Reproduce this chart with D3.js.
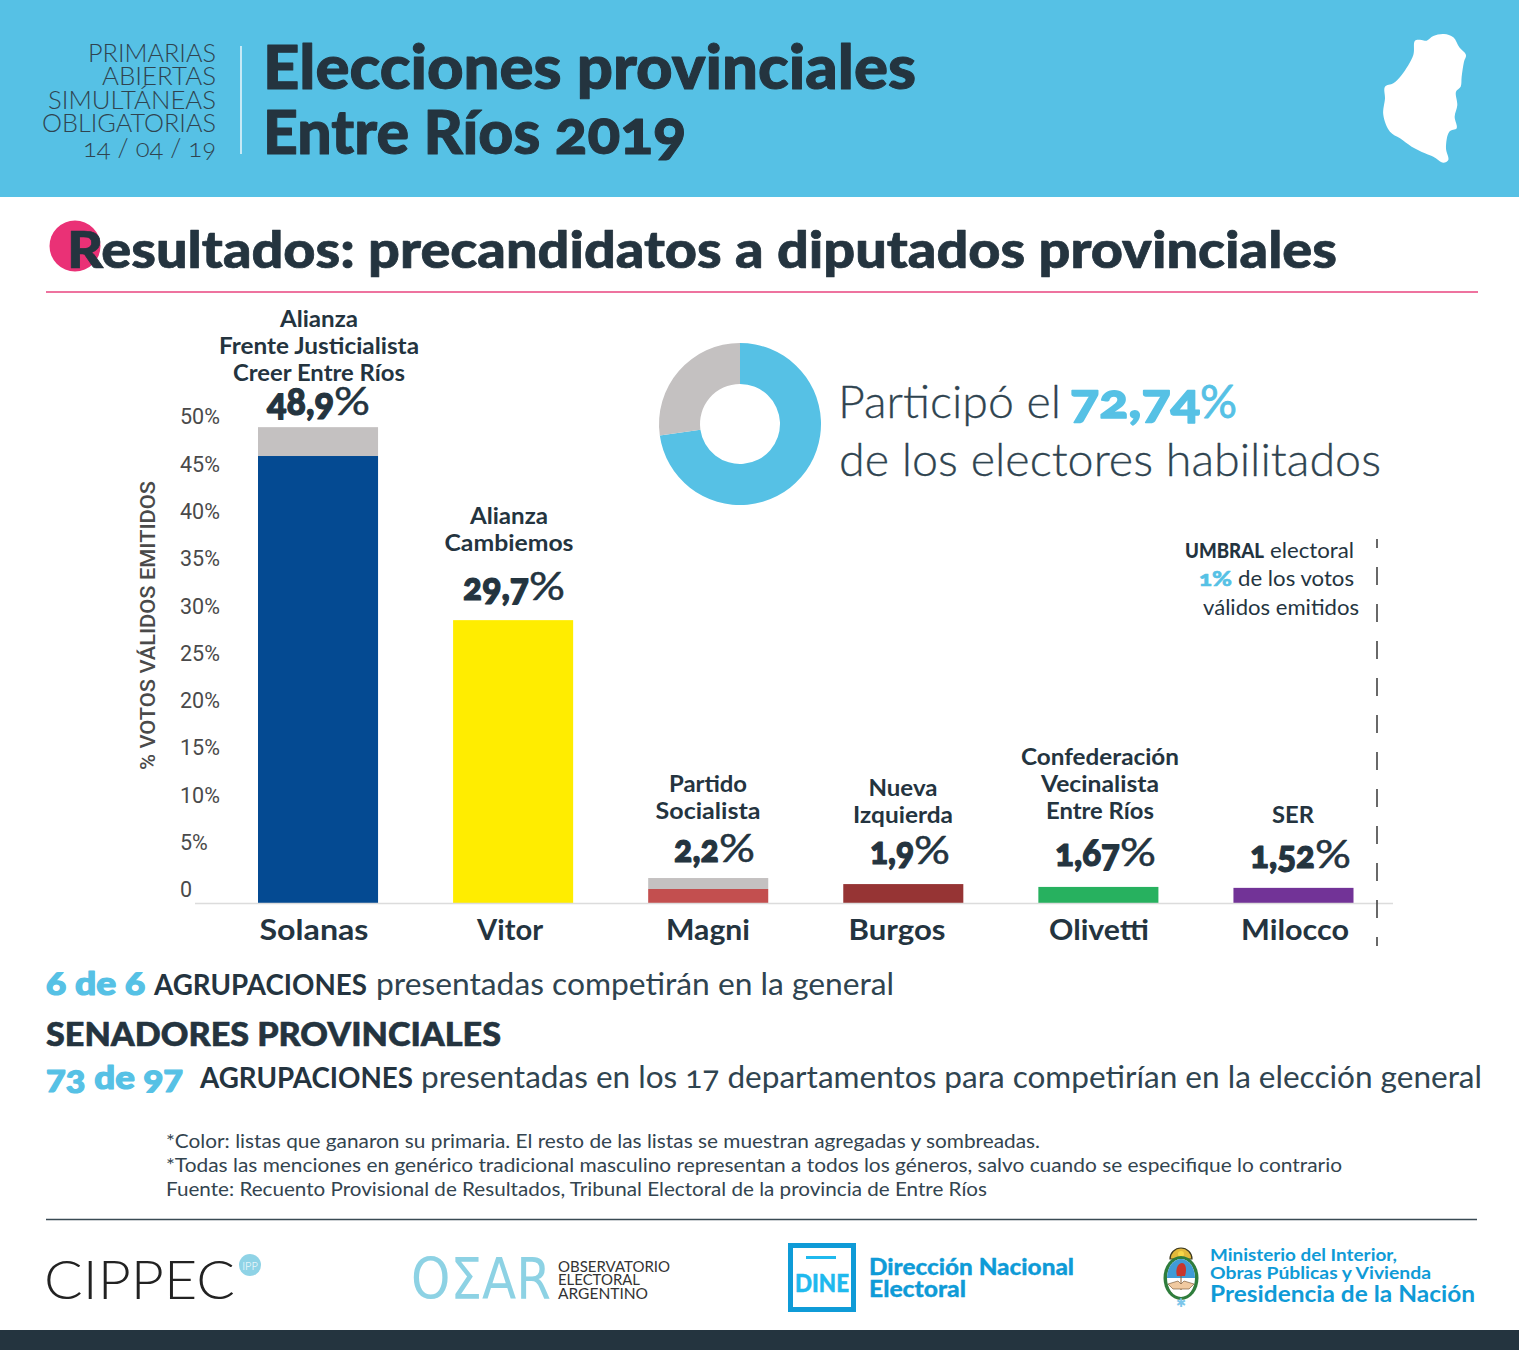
<!DOCTYPE html>
<html lang="es"><head><meta charset="utf-8">
<script src="https://cdnjs.cloudflare.com/ajax/libs/d3/7.8.5/d3.min.js"></script>
<style>html,body{margin:0;padding:0;background:#fff}svg{display:block}text{font-family:Lato,"Noto Sans",sans-serif;font-feature-settings:"onum" 1,"kern" 1}</style>
</head><body><svg id="c" width="1519" height="1350"></svg>
<script>
const candidates=["Solanas","Vitor","Magni","Burgos","Olivetti","Milocco"];
const winnerShare=[47.25,29.9,1.48,2.0,1.7,1.6];
const otherShare=[3.05,0,1.16,0,0,0];
const barColors=["#044a92","#ffed00","#c34f4f","#963434","#27b15f","#723397"];
const voteLabels=["48,9","29,7","2,2","1,9","1,67","1,52"];
const yTicks=[0,5,10,15,20,25,30,35,40,45,50];
const participation=[72.74,27.26];
const INK="#24343f",BLUE="#56c1e5",GREY="#c4c1c1",LOGO="#0f9bd7";
const svg=d3.select("#c");
function t(x,y,s,o={}){const e=svg.append("text").attr("x",x).attr("y",y).text(s)
 .attr("fill",o.fill||INK).attr("font-size",o.size||20).attr("font-weight",o.weight||400)
 .attr("text-anchor",o.anchor||"start");
 if(o.family)e.style("font-family",o.family);
 if(o.width)e.attr("textLength",o.width).attr("lengthAdjust","spacingAndGlyphs");
 if(o.stroke)e.attr("stroke",o.fill||INK).attr("stroke-width",o.stroke).attr("stroke-linejoin","round");
 return e;}
const span=(x0,x1,y,s,o)=>t(x0,y,s,{...o,width:x1-x0});
// header
svg.append("rect").attr("width",1519).attr("height",197).attr("fill",BLUE);
[[88,62,"PRIMARIAS"],[102,85,"ABIERTAS"],[48,109,"SIMULTÁNEAS"],[42,132,"OBLIGATORIAS"],[83,157,"14 / 04 / 19"]]
 .forEach(d=>span(d[0],216,d[1],d[2],{size:25,weight:300,fill:"#2f4450"}));
svg.append("line").attr("x1",241).attr("x2",241).attr("y1",46).attr("y2",154).attr("stroke","#e4f4fa").attr("stroke-width",1.6);
span(263,916,89,"Elecciones provinciales",{size:60,weight:900,stroke:1});
span(263,686,154,"Entre Ríos 2019",{size:60,weight:900,stroke:1});
const mapPts=[[225,62],[245,60],[260,62],[280,48],[312,42],[340,52],[358,82],[378,105],[372,125],[365,170],[362,200],[348,215],[352,255],[344,290],[350,325],[328,335],[318,385],[325,420],[310,428],[280,410],[255,400],[215,380],[180,355],[150,335],[130,285],[135,235],[135,200],[160,190],[185,165],[220,105]];
svg.append("path").attr("transform","translate(1340,20) scale(.3333)").attr("fill","#fff")
 .attr("d",d3.line().curve(d3.curveCatmullRomClosed)(mapPts));
// section title
svg.append("circle").attr("cx",75).attr("cy",246).attr("r",25.5).attr("fill","#ea3176");
span(67,1337,268,"Resultados: precandidatos a diputados provinciales",{size:51,weight:900,stroke:.7});
svg.append("line").attr("x1",46).attr("x2",1478).attr("y1",292).attr("y2",292).attr("stroke","#e8447f").attr("stroke-width",1.6);
// chart
const x=d3.scaleBand().domain(candidates).range([258,1353.5]).paddingInner(75/195);
const y=d3.scaleLinear().domain([0,50]).range([903,430]);
const g=svg.append("g");
g.selectAll(".o").data(candidates).join("rect").attr("x",d=>x(d)).attr("width",x.bandwidth())
 .attr("y",(d,i)=>y(winnerShare[i]+otherShare[i])).attr("height",(d,i)=>y(0)-y(otherShare[i])).attr("fill",GREY);
g.selectAll(".w").data(candidates).join("rect").attr("x",d=>x(d)).attr("width",x.bandwidth())
 .attr("y",(d,i)=>y(winnerShare[i])).attr("height",(d,i)=>y(0)-y(winnerShare[i])).attr("fill",(d,i)=>barColors[i]);
svg.append("line").attr("x1",195).attr("x2",1393).attr("y1",903.5).attr("y2",903.5).attr("stroke","#dcdcdc").attr("stroke-width",1.5);
const axis=d3.axisLeft(y).tickValues(yTicks).tickSize(0).tickPadding(0).tickFormat(d=>d?d+"%":"0");
const ag=svg.append("g").attr("transform","translate(180,-13)").call(axis);
ag.select(".domain").remove();
ag.selectAll("text").attr("fill","#4a4a4a").attr("font-size",21.5).attr("font-weight",400)
 .style("font-family","Roboto").style("font-feature-settings","normal").attr("text-anchor","start").attr("x",0);
svg.append("text").attr("transform","translate(155,625.5) rotate(-90)").attr("text-anchor","middle")
 .attr("fill","#4a4a4a").attr("font-size",21).attr("font-weight",500).style("font-family","Roboto").style("font-feature-settings","normal")
 .attr("textLength",289).attr("lengthAdjust","spacingAndGlyphs").text("% VOTOS VÁLIDOS EMITIDOS");
// labels
const partyLabels=[[["Alianza",319,327],["Frente Justicialista",319,354],["Creer Entre Ríos",319,381]],
 [["Alianza",509,524],["Cambiemos",509,551]],[["Partido",708,792],["Socialista",708,819]],
 [["Nueva",903,796],["Izquierda",903,823]],[["Confederación",1100,765],["Vecinalista",1100,792],["Entre Ríos",1100,819]],[["SER",1293,823]]];
const partyW={"Alianza":78,"Frente Justicialista":200,"Creer Entre Ríos":172,"Cambiemos":129,"Partido":78,"Socialista":105,"Nueva":69,"Izquierda":100,"Confederación":158,"Vecinalista":118,"Entre Ríos":108,"SER":42};
partyLabels.flat().forEach(d=>t(d[1]-partyW[d[0]]/2,d[2],d[0],{size:22.5,weight:700,width:partyW[d[0]]}));
const pctPos=[[267,370,415],[463,565,600],[674,755,862],[870,950,864],[1055,1156,866],[1250,1351,868]];
voteLabels.forEach((v,i)=>{const p=pctPos[i],pw=36;
 span(p[0],p[1]-pw,p[2],v,{size:38,weight:900,stroke:1.2});
 span(p[1]-pw,p[1],p[2],"%",{size:38,weight:400,stroke:.5});});
const nameX=[314,510,708,897,1099,1295],nameW=[109,66,84,97,100,108];
candidates.forEach((c,i)=>t(nameX[i]-nameW[i]/2,940,c,{size:29,weight:700,width:nameW[i]}));
// donut
const arc=d3.arc().innerRadius(40).outerRadius(81);
const dg=svg.append("g").attr("transform","translate(740,424)");
dg.selectAll("path").data(d3.pie().sort(null)(participation)).join("path").attr("d",arc).attr("fill",(d,i)=>i?GREY:BLUE);
span(838,1061,418,"Participó el",{size:46,weight:300,fill:"#2f4450",stroke:.3});
span(1070,1200,418,"72,74",{size:47,weight:900,fill:BLUE,stroke:1.4});
span(1200,1237,418,"%",{size:47,weight:400,fill:BLUE,stroke:.8});
span(839,1381,476,"de los electores habilitados",{size:46,weight:300,fill:"#2f4450",stroke:.3});
// threshold
span(1185,1264,558,"UMBRAL",{size:21,weight:900});
span(1270,1354,558,"electoral",{size:21,weight:400});
span(1199,1232,586,"1%",{size:21,weight:900,fill:BLUE,stroke:.6});
span(1238,1354,586,"de los votos",{size:21,weight:400});
span(1203,1359,615,"válidos emitidos",{size:21,weight:400});
svg.append("line").attr("x1",1377).attr("x2",1377).attr("y1",539).attr("y2",946).attr("stroke","#444").attr("stroke-width",1.6)
 .attr("stroke-dasharray","18 19").attr("stroke-dashoffset",9);
// lower text
span(46,145,995,"6 de 6",{size:32,weight:900,fill:BLUE,stroke:1.2});
span(154,367,995,"AGRUPACIONES",{size:28,weight:700});
span(376,894,995,"presentadas competirán en la general",{size:30,weight:400,fill:"#2f4450"});
span(46,501,1046,"SENADORES PROVINCIALES",{size:32,weight:900,stroke:.6});
span(46,183,1089,"73 de 97",{size:32,weight:900,fill:BLUE,stroke:1.2});
span(200,413,1088,"AGRUPACIONES",{size:28,weight:700});
span(421,1482,1088,"presentadas en los 17 departamentos para competirían en la elección general",{size:30,weight:400,fill:"#2f4450"});
[["*Color: listas que ganaron su primaria. El resto de las listas se muestran agregadas y sombreadas.",1040,1148],
 ["*Todas las menciones en genérico tradicional masculino representan a todos los géneros, salvo cuando se especifique lo contrario",1342,1172],
 ["Fuente: Recuento Provisional de Resultados, Tribunal Electoral de la provincia de Entre Ríos",987,1196]]
 .forEach(d=>span(166,d[1],d[2],d[0],{size:19.5,weight:400,fill:"#33444f"}));
svg.append("line").attr("x1",46).attr("x2",1477).attr("y1",1219.5).attr("y2",1219.5).attr("stroke","#3a4a54").attr("stroke-width",1.5);
// logos
span(44,235,1299,"CIPPEC",{size:53,weight:300,fill:"#222"});
svg.append("circle").attr("cx",250).attr("cy",1265).attr("r",11).attr("fill","#8fd3e6");
t(250,1270,"IPP",{size:11,weight:300,fill:"#fff",anchor:"middle"});
span(411,551,1299,"OΣAR",{size:57,weight:400,fill:"#8dd2e4",family:"'DejaVu Sans'"});
span(558,670,1272,"OBSERVATORIO",{size:15.5,weight:400,fill:"#333"});
span(558,640,1285,"ELECTORAL",{size:15.5,weight:400,fill:"#333"});
span(558,648,1299,"ARGENTINO",{size:15.5,weight:400,fill:"#333"});
svg.append("rect").attr("x",790.5).attr("y",1245.5).attr("width",63).attr("height",64).attr("fill","none").attr("stroke",LOGO).attr("stroke-width",5);
svg.append("rect").attr("x",806).attr("y",1256).attr("width",30).attr("height",3).attr("fill","#1fb9ee");
span(795,849,1292,"DINE",{size:25,weight:900,fill:"#1fb9ee",stroke:.5});
span(869,1074,1275,"Dirección Nacional",{size:23,weight:900,fill:LOGO,stroke:.3});
span(869,966,1297,"Electoral",{size:23,weight:900,fill:LOGO,stroke:.3});
span(1210,1397,1261,"Ministerio del Interior,",{size:17.5,weight:700,fill:LOGO});
span(1210,1431,1279,"Obras Públicas y Vivienda",{size:17.5,weight:700,fill:LOGO});
span(1210,1475,1302,"Presidencia de la Nación",{size:23,weight:700,fill:LOGO});
// shield
const sg=svg.append("g").attr("transform","translate(1181,1278)");
sg.append("path").attr("d","M-11,-19A11,11 0 0 1 11,-19Z").attr("fill","#e2b93b").attr("stroke","#3d3a20").attr("stroke-width",1.2);
sg.append("circle").attr("cy",-24).attr("r",3).attr("fill","#f7d648");
sg.append("ellipse").attr("rx",17.5).attr("ry",22).attr("fill","#2f7d3c");
sg.append("ellipse").attr("rx",14).attr("ry",19).attr("fill","#fff");
sg.append("path").attr("d","M-14,0A14,19 0 0 1 14,0Z").attr("fill","#3f9bd6");
sg.append("path").attr("d","M-4,-2C-6,-9 -3,-15 1,-15C5,-15 6,-8 4,-2Z").attr("fill","#c8362c");
sg.append("line").attr("y1",-2).attr("y2",12).attr("stroke","#8a5a2a").attr("stroke-width",1);
sg.append("path").attr("d","M-13,6L-3,3L0,6L3,3L13,6L8,11L-8,11Z").attr("fill","#f0c9a0").attr("stroke","#6b4b2a").attr("stroke-width",.6);
sg.append("text").attr("y",29).attr("text-anchor","middle").attr("font-size",12).attr("fill","#7cc6ea").text("✱");
svg.append("rect").attr("y",1330).attr("width",1519).attr("height",20).attr("fill",INK);
</script></body></html>
